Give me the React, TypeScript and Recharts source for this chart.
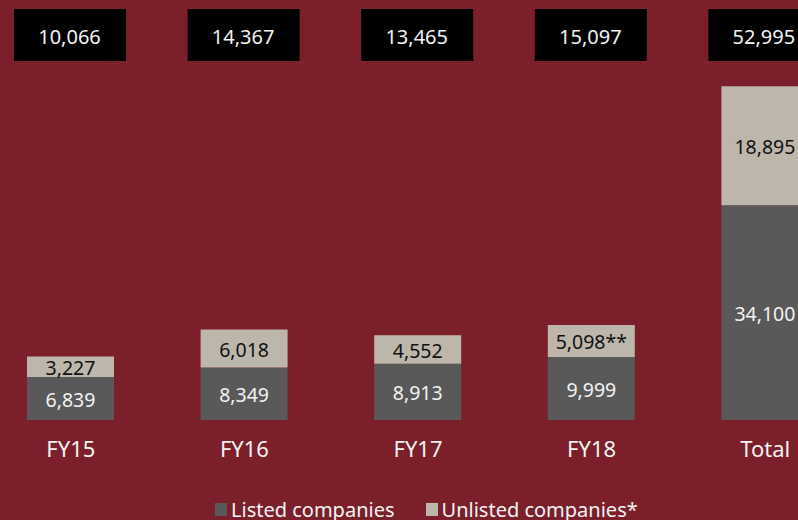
import React from 'react';
import { BarChart, Bar, XAxis, YAxis, LabelList } from 'recharts';

const categories = ['FY15', 'FY16', 'FY17', 'FY18', 'Total'];
const listed = [6839, 8349, 8913, 9999, 34100];
const unlisted = [3227, 6018, 4552, 5098, 18895];
const listedLabels = ['6,839', '8,349', '8,913', '9,999', '34,100'];
const unlistedLabels = ['3,227', '6,018', '4,552', '5,098**', '18,895'];
const totals = ['10,066', '14,367', '13,465', '15,097', '52,995'];

const BG = '#7B1F2B';
const LISTED = '#595959';
const UNLISTED = '#BDB6AB';
const FONT = '"Noto Sans", sans-serif';

const data = categories.map((c, i) => ({
  name: c,
  listed: listed[i],
  unlisted: unlisted[i],
  listedLabel: listedLabels[i],
  unlistedLabel: unlistedLabels[i],
  total: totals[i],
}));

const TotalBox = (props: any) => {
  const { x, width, value } = props;
  const cx = Number(x) + Number(width) / 2;
  return (
    <g>
      <rect x={cx - 56.5} y={9} width={112} height={52} fill="#000" />
      <text x={cx - 1} y={36} textAnchor="middle" dominantBaseline="central" fill="#F2F2F2" fontSize={20} fontFamily={FONT}>
        {value}
      </text>
    </g>
  );
};

const CenterLabel = (color: string) => (props: any) => {
  const { x, y, width, height, value } = props;
  return (
    <text
      x={Number(x) + Number(width) / 2}
      y={Number(y) + Number(height) / 2 + 1}
      textAnchor="middle"
      dominantBaseline="central"
      fill={color}
      fontSize={19.5}
      fontFamily={FONT}
    >
      {value}
    </text>
  );
};

export default function App() {
  return (
    <div style={{ position: 'fixed', left: 0, top: 0, width: 798, height: 520, overflow: 'hidden', background: BG, fontFamily: FONT }}>
      <div style={{ position: 'absolute', left: -16, top: 0 }}>
        <BarChart width={868} height={520} data={data} margin={{ top: 42, right: 0, bottom: 60, left: 0 }} barCategoryGap={0}>
          <YAxis hide domain={[0, 60000]} />
          <XAxis
            dataKey="name"
            axisLine={false}
            tickLine={false}
            height={40}
            tick={{ fill: '#F2F2F2', fontSize: 22, fontFamily: FONT }}
            tickMargin={15}
          />
          <Bar dataKey="listed" stackId="a" fill={LISTED} barSize={87} isAnimationActive={false}>
            <LabelList dataKey="listedLabel" content={CenterLabel('#F2F2F2')} />
          </Bar>
          <Bar dataKey="unlisted" stackId="a" fill={UNLISTED} barSize={87} isAnimationActive={false}>
            <LabelList dataKey="unlistedLabel" content={CenterLabel('#111111')} />
            <LabelList dataKey="total" content={TotalBox} />
          </Bar>
        </BarChart>
      </div>
      <div style={{ position: 'absolute', left: 215, top: 496, display: 'flex', alignItems: 'center', color: '#F2F2F2', fontSize: 20, whiteSpace: 'nowrap' }}>
        <span style={{ width: 12, height: 13, background: LISTED, display: 'inline-block', marginRight: 4 }} />
        <span style={{ marginRight: 31 }}>Listed companies</span>
        <span style={{ width: 12, height: 13, background: UNLISTED, display: 'inline-block', marginRight: 4 }} />
        <span>Unlisted companies*</span>
      </div>
    </div>
  );
}
